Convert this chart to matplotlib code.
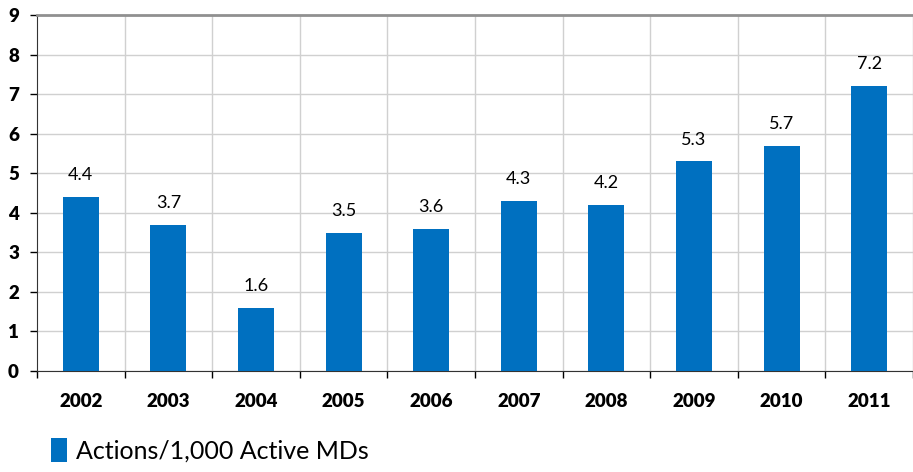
import matplotlib
matplotlib.use("Agg")
from matplotlib import pyplot as plt
import numpy as np

plt.rcParams["font.family"] = ["Lato", "DejaVu Sans"]

years = ["2002", "2003", "2004", "2005", "2006", "2007", "2008", "2009", "2010", "2011"]
actions = [4.4, 3.7, 1.6, 3.5, 3.6, 4.3, 4.2, 5.3, 5.7, 7.2]
bar_color = "#0070C0"

fig = plt.figure(figsize=(9.13, 4.72), dpi=100)
ax = fig.add_axes([0.0405, 0.214, 0.9595, 0.754])

x = np.arange(len(years))
ax.bar(x, actions, width=0.41, color=bar_color, zorder=3,
       label="Actions/1,000 Active MDs")
for xi, v in zip(x, actions):
    ax.text(xi, v + 0.35, f"{v:.1f}", ha="center", va="bottom", fontsize=13)

ax.set_xlim(-0.5, len(years) - 0.5)
ax.set_ylim(0, 9)
ax.set_yticks(range(0, 10))
ax.set_yticklabels([str(i) for i in range(10)], fontsize=13.5, fontweight="heavy")
ax.set_xticks(x)
ax.set_xticklabels(years, fontsize=13.5, fontweight="heavy")
ax.tick_params(axis="x", length=0, pad=16)
ax.tick_params(axis="y", length=5, width=1, pad=8)

# boundary ticks and vertical grid
bounds = np.arange(-0.5, len(years), 1.0)
ax.set_xticks(bounds, minor=True)
ax.tick_params(axis="x", which="minor", length=5, width=1, direction="out")
for b in bounds[1:]:
    ax.axvline(b, color="#d0d0d0", lw=1, zorder=1)
ax.yaxis.grid(True, color="#d0d0d0", lw=1, zorder=1)

ax.spines["right"].set_visible(False)
ax.spines["top"].set_color("#909090")
ax.spines["top"].set_linewidth(2)
ax.spines["left"].set_color("#333333")
ax.spines["bottom"].set_color("#333333")

fig.legend(loc="upper left", bbox_to_anchor=(0.056, 1 - 438 / 472),
           frameon=False, fontsize=18, handlelength=0.65, handleheight=1.1,
           handletextpad=0.35, borderaxespad=0, borderpad=0)

fig.savefig("out.png", dpi=100)
